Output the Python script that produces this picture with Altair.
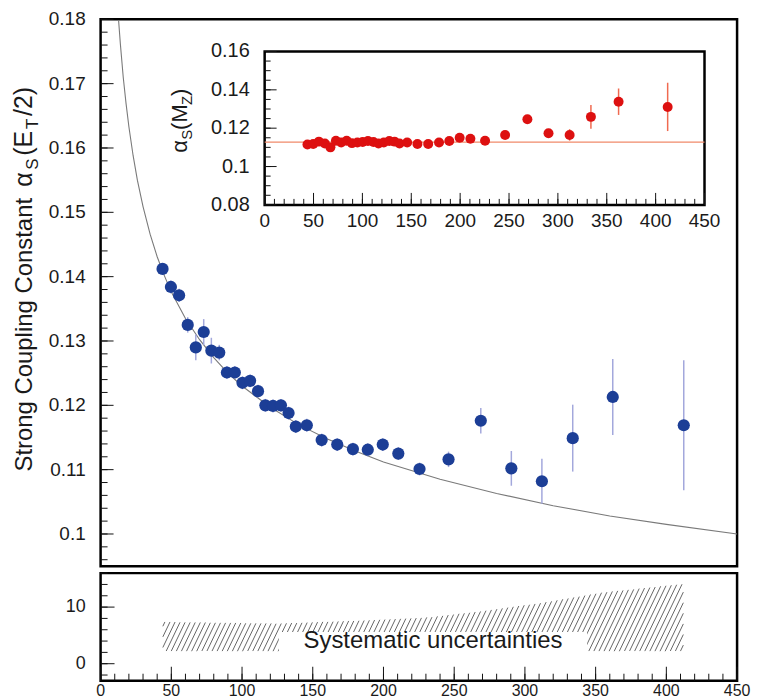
import altair as alt
import numpy as np
import pandas as pd

FONT = "Liberation Sans"

# ---------------- data ----------------
et_bins = [43.8, 49.7, 55.5, 61.6, 67.3, 72.9, 78.3, 83.9, 89.3, 94.9,
           100.3, 105.7, 111.3, 116.5, 121.9, 127.5, 132.9, 138.0, 145.8, 156.3,
           167.3, 178.4, 188.9, 199.5, 210.5, 225.5, 246.0, 268.8, 290.4, 312.0,
           333.8, 362.1, 412.3]
alpha_et = [0.1412, 0.1384, 0.1371, 0.1325, 0.1290, 0.1314, 0.1285, 0.1282, 0.1251, 0.1251,
            0.1235, 0.1238, 0.1222, 0.1200, 0.1199, 0.1200, 0.1188, 0.1167, 0.1169, 0.1146,
            0.1139, 0.1132, 0.1131, 0.1139, 0.1125, 0.1101, 0.1116, 0.1176, 0.1102, 0.1082,
            0.1149, 0.1213, 0.1169]
alpha_et_err = [0.0008, 0.0010, 0.0010, 0.0012, 0.0020, 0.0020, 0.0020, 0.0012, 0.0010, 0.0010,
                0.0010, 0.0010, 0.0010, 0.0010, 0.0010, 0.0010, 0.0010, 0.0010, 0.0010, 0.0010,
                0.0010, 0.0010, 0.0010, 0.0010, 0.0010, 0.0010, 0.0012, 0.0020, 0.0027, 0.0035,
                0.0052, 0.0059, 0.0101]
alpha_mz = [0.1115, 0.1118, 0.1130, 0.1120, 0.1100, 0.1135, 0.1125, 0.1135, 0.1122, 0.1125,
            0.1128, 0.1133, 0.1128, 0.1120, 0.1125, 0.1133, 0.1130, 0.1120, 0.1125, 0.1117,
            0.1118, 0.1125, 0.1133, 0.1150, 0.1145, 0.1134, 0.1164, 0.1247, 0.1174, 0.1165,
            0.1259, 0.1338, 0.1311]
alpha_mz_err = [0.0009, 0.0010, 0.0010, 0.0012, 0.0020, 0.0020, 0.0020, 0.0012, 0.0010, 0.0010,
                0.0010, 0.0010, 0.0010, 0.0010, 0.0010, 0.0010, 0.0010, 0.0010, 0.0010, 0.0010,
                0.0010, 0.0010, 0.0010, 0.0010, 0.0010, 0.0010, 0.0013, 0.0015, 0.0020, 0.0030,
                0.0062, 0.0069, 0.0126]
alpha_mz_mean = 0.1127

curve_et = [12.7, 14, 16, 18, 20, 23, 26, 30, 35, 40, 45, 50, 60, 70, 80, 90, 100,
            120, 140, 160, 180, 200, 240, 280, 320, 360, 400, 450]
curve_alpha = [0.1799, 0.1761, 0.1710, 0.1669, 0.1633, 0.1588, 0.1550, 0.1509, 0.1466,
               0.1431, 0.1402, 0.1376, 0.1335, 0.1302, 0.1274, 0.1250, 0.1230, 0.1197,
               0.1170, 0.1148, 0.1129, 0.1112, 0.1085, 0.1063, 0.1044, 0.1028, 0.1015, 0.1000]

band_et = [44, 125, 180, 232, 270, 313, 355, 412]
band_hi = [7.4, 7.1, 7.6, 8.2, 9.3, 10.8, 12.6, 14.1]
band_lo = [2.2, 2.2, 2.2, 2.2, 2.2, 2.2, 2.2, 2.2]
label_box_et = [126, 344]
label_box_val = [1.0, 5.6]
label_pos = [235, 4.0]
label_text = "Systematic uncertainties"

x_ticks_major = list(range(0, 451, 50))
x_ticks_minor = list(range(0, 451, 10))
main_y_major = [0.1, 0.11, 0.12, 0.13, 0.14, 0.15, 0.16, 0.17, 0.18]
main_y_minor = [round(0.096 + 0.002 * i, 3) for i in range(43)]
inset_y_major = [0.08, 0.1, 0.12, 0.14, 0.16]
inset_y_minor = [round(0.08 + 0.005 * i, 3) for i in range(17)]
bot_y_major = [0, 10]
bot_y_minor = list(range(-2, 17, 2))

# ---------------- geometry ----------------
W = 639
H_MAIN = 549
H_BOT = 108
INSET_L, INSET_R = 164.7, 606.3      # pixel range inside main plot
INSET_T, INSET_B = 32.3, 186.3

X_DOM = [0, 450]
TICK_C = "#111111"
LABEL_C = "#1a1a1a"

# ---------------- scales ----------------
xs_main = alt.Scale(domain=X_DOM, nice=False, zero=False)
ys_main = alt.Scale(domain=[0.095, 0.18], nice=False, zero=False)
xs_in = alt.Scale(domain=X_DOM, range=[INSET_L, INSET_R], nice=False, zero=False)
ys_in = alt.Scale(domain=[0.08, 0.16], range=[INSET_B, INSET_T], nice=False, zero=False)
xs_bot = alt.Scale(domain=X_DOM, nice=False, zero=False)
ys_bot = alt.Scale(domain=[-3, 16], nice=False, zero=False)


# ---------------- tick and tick-label helpers (placed through the scales) ----------------
def y_ticks(values, yscale, x0, length):
    return alt.Chart(pd.DataFrame({"v": values})).mark_rule(
        color=TICK_C, strokeWidth=1).encode(
        y=alt.Y("v:Q", scale=yscale, axis=None),
        x=alt.value(x0), x2=alt.value(x0 + length))


def x_ticks(values, xscale, y0, length):
    return alt.Chart(pd.DataFrame({"v": values})).mark_rule(
        color=TICK_C, strokeWidth=1).encode(
        x=alt.X("v:Q", scale=xscale, axis=None),
        y=alt.value(y0), y2=alt.value(y0 - length))


def y_labels(values, yscale, x_right, size):
    df = pd.DataFrame({"v": values, "lab": [f"{v:g}" for v in values]})
    return alt.Chart(df).mark_text(font=FONT, fontSize=size, color=LABEL_C,
                                   align="right", baseline="middle").encode(
        y=alt.Y("v:Q", scale=yscale, axis=None),
        x=alt.value(x_right), text="lab:N")


def x_labels(values, xscale, y_top, size):
    df = pd.DataFrame({"v": values, "lab": [f"{v:g}" for v in values]})
    return alt.Chart(df).mark_text(font=FONT, fontSize=size, color=LABEL_C,
                                   align="center", baseline="top").encode(
        x=alt.X("v:Q", scale=xscale, axis=None),
        y=alt.value(y_top), text="lab:N")


def hatch_segments(xs, lo, hi, slope, step):
    grid = np.linspace(xs[0], xs[-1], 4000)
    lo_g = np.interp(grid, xs, lo)
    hi_g = np.interp(grid, xs, hi)
    base = min(lo)
    rows = []
    c = xs[0] - (max(hi) - base) / slope
    while c < xs[-1]:
        line = base + slope * (grid - c)
        mask = (line >= lo_g - 1e-9) & (line <= hi_g)
        idx = np.nonzero(mask)[0]
        if len(idx) > 1:
            brk = np.nonzero(np.diff(idx) > 1)[0]
            end = idx[brk[0]] if len(brk) else idx[-1]
            a, b = grid[idx[0]], grid[end]
            rows.append({"x1": a, "y1": base + slope * (a - c),
                         "x2": b, "y2": base + slope * (b - c)})
        c += step
    return pd.DataFrame(rows)


# ---------------- main panel ----------------
main_df = pd.DataFrame({"et": et_bins, "a": alpha_et, "e": alpha_et_err})
main_df["lo"] = main_df["a"] - main_df["e"]
main_df["hi"] = main_df["a"] + main_df["e"]

curve = alt.Chart(pd.DataFrame({"et": curve_et, "a": curve_alpha})).mark_line(
    color="#7a7a7a", strokeWidth=1.1, clip=True).encode(
    x=alt.X("et:Q", scale=xs_main, axis=None),
    y=alt.Y("a:Q", scale=ys_main, axis=None),
)
errs = alt.Chart(main_df).mark_rule(color="#a3a8dc", strokeWidth=1.5).encode(
    x=alt.X("et:Q", scale=xs_main, axis=None),
    y=alt.Y("lo:Q", scale=ys_main, axis=None),
    y2="hi:Q",
)
pts = alt.Chart(main_df).mark_circle(size=150, color="#1c3e96", opacity=1).encode(
    x=alt.X("et:Q", scale=xs_main, axis=None),
    y=alt.Y("a:Q", scale=ys_main, axis=None),
)
main_group = alt.layer(
    curve, errs, pts,
    y_ticks(main_y_major, ys_main, 0, 13),
    y_ticks(main_y_minor, ys_main, 0, 7),
    y_labels(main_y_major, ys_main, -15, 19),
)

# ---------------- inset ----------------
mz_df = pd.DataFrame({"et": et_bins, "a": alpha_mz, "e": alpha_mz_err})
mz_df["lo"] = mz_df["a"] - mz_df["e"]
mz_df["hi"] = mz_df["a"] + mz_df["e"]

frame = alt.Chart(pd.DataFrame({"x1": [0], "x2": [450], "y1": [0.08], "y2": [0.16]})).mark_rect(
    fill="white", stroke="black", strokeWidth=2.5).encode(
    x=alt.X("x1:Q", scale=xs_in, axis=None), x2="x2:Q",
    y=alt.Y("y1:Q", scale=ys_in, axis=None), y2="y2:Q",
)
mean_line = alt.Chart(pd.DataFrame({"x1": [0], "x2": [450], "y": [alpha_mz_mean]})).mark_rule(
    color="#f08a6a", strokeWidth=1.3).encode(
    x=alt.X("x1:Q", scale=xs_in, axis=None), x2="x2:Q",
    y=alt.Y("y:Q", scale=ys_in, axis=None),
)
mz_err = alt.Chart(mz_df).mark_rule(color="#f06a50", strokeWidth=1.5).encode(
    x=alt.X("et:Q", scale=xs_in, axis=None),
    y=alt.Y("lo:Q", scale=ys_in, axis=None), y2="hi:Q",
)
mz_pts = alt.Chart(mz_df).mark_circle(size=100, color="#dd1010", opacity=1).encode(
    x=alt.X("et:Q", scale=xs_in, axis=None),
    y=alt.Y("a:Q", scale=ys_in, axis=None),
)
inset_group = alt.layer(
    frame,
    y_ticks(inset_y_major, ys_in, INSET_L, 12),
    y_ticks(inset_y_minor, ys_in, INSET_L, 6),
    x_ticks(x_ticks_major, xs_in, INSET_B, 12),
    x_ticks(x_ticks_minor, xs_in, INSET_B, 6),
    mean_line, mz_err, mz_pts,
    y_labels(inset_y_major, ys_in, INSET_L - 15, 20),
    x_labels(x_ticks_major, xs_in, INSET_B + 7, 19),
)

# ---------------- axis titles with subscripts (text pieces, rotated) ----------------
main_title_parts = [("Strong Coupling Constant", 24, 454, False),
                    ("α", 25, 168, False),
                    ("S", 17, 151, True),
                    ("(E", 25, 137, False),
                    ("T", 17, 110, True),
                    ("/2)", 25, 97, False)]
inset_title_parts = [("α", 22, 134, False),
                     ("S", 15, 121, True),
                     ("(M", 22, 111, False),
                     ("Z", 15, 86, True),
                     (")", 22, 77, False)]
title_rows = []
for txt, fs, pos, sub in main_title_parts:
    title_rows.append({"t": txt, "fs": fs, "py": pos, "px": -69 + (6 if sub else 0)})
for txt, fs, pos, sub in inset_title_parts:
    title_rows.append({"t": txt, "fs": fs, "py": pos, "px": 87 + (5 if sub else 0)})
titles = alt.Chart(pd.DataFrame(title_rows)).mark_text(
    angle=270, align="left", baseline="alphabetic", font=FONT, color=LABEL_C).encode(
    x=alt.X("px:Q", scale=None, axis=None),
    y=alt.Y("py:Q", scale=None, axis=None),
    size=alt.Size("fs:Q", scale=None, legend=None),
    text="t:N",
)

top = alt.layer(main_group, inset_group, titles).resolve_scale(
    x="independent", y="independent").properties(width=W, height=H_MAIN)

# ---------------- bottom panel ----------------
hatch = alt.Chart(hatch_segments(band_et, band_lo, band_hi, slope=0.52, step=3.6)).mark_rule(
    color="#555555", strokeWidth=0.9).encode(
    x=alt.X("x1:Q", scale=xs_bot, axis=None), x2="x2:Q",
    y=alt.Y("y1:Q", scale=ys_bot, axis=None), y2="y2:Q",
)
box = alt.Chart(pd.DataFrame({"x1": [label_box_et[0]], "x2": [label_box_et[1]],
                              "y1": [label_box_val[0]], "y2": [label_box_val[1]]})
                ).mark_rect(fill="white").encode(
    x=alt.X("x1:Q", scale=xs_bot, axis=None), x2="x2:Q",
    y=alt.Y("y1:Q", scale=ys_bot, axis=None), y2="y2:Q",
)
label = alt.Chart(pd.DataFrame({"x": [label_pos[0]], "y": [label_pos[1]], "t": [label_text]})
                  ).mark_text(font=FONT, fontSize=24, color=LABEL_C,
                              align="center", baseline="middle").encode(
    x=alt.X("x:Q", scale=xs_bot, axis=None),
    y=alt.Y("y:Q", scale=ys_bot, axis=None),
    text="t:N",
)
bottom = alt.layer(
    hatch, box, label,
    x_ticks(x_ticks_major, xs_bot, H_BOT, 14),
    x_ticks(x_ticks_minor, xs_bot, H_BOT, 7),
    y_ticks(bot_y_major, ys_bot, 0, 14),
    y_ticks(bot_y_minor, ys_bot, 0, 7),
    y_labels(bot_y_major, ys_bot, -15, 18),
    x_labels(x_ticks_major, xs_bot, H_BOT + 2, 16),
).properties(width=W, height=H_BOT)

chart = alt.vconcat(top, bottom, spacing=3).resolve_scale(
    x="independent", y="independent"
).properties(
    padding={"left": 10, "top": 7, "right": 5, "bottom": 2}
).configure_view(
    stroke="black", strokeWidth=2.5
)

chart.save("out.html", embed_options={"renderer": "svg", "actions": False})
